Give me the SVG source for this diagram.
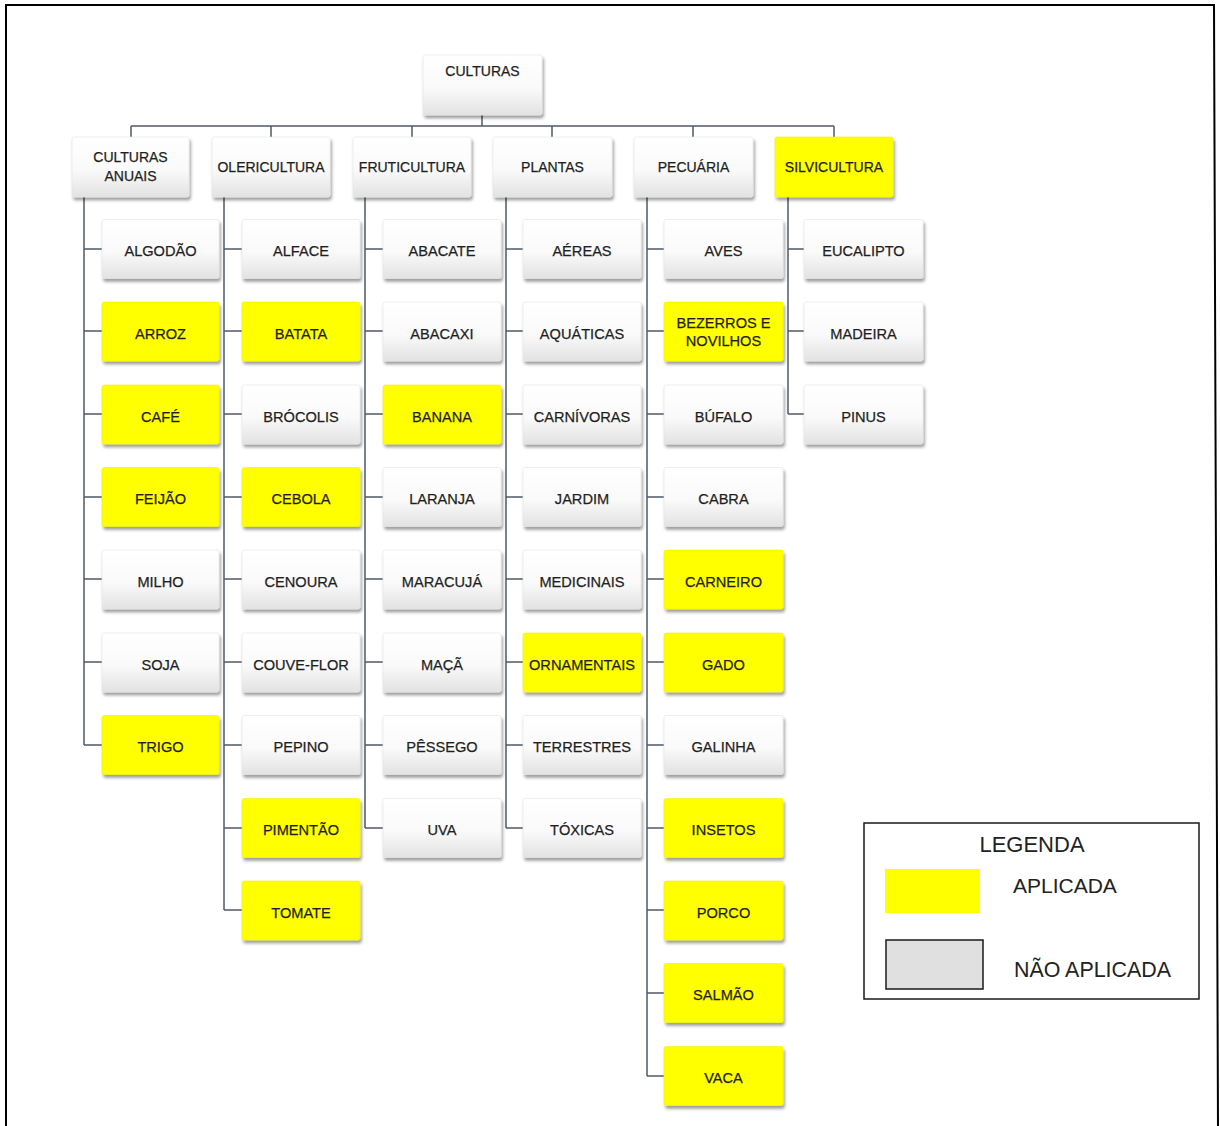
<svg xmlns="http://www.w3.org/2000/svg" width="1220" height="1126" viewBox="0 0 1220 1126">
  <defs>
    <linearGradient id="boxFill" x1="0" y1="0" x2="0" y2="1">
      <stop offset="0" stop-color="#ffffff"/>
      <stop offset="0.55" stop-color="#fafafa"/>
      <stop offset="1" stop-color="#e2e2e2"/>
    </linearGradient>
    <filter id="shadow" x="-10%" y="-10%" width="125%" height="135%">
      <feDropShadow dx="1.5" dy="3" stdDeviation="1.8" flood-color="#000" flood-opacity="0.38"/>
    </filter>
  </defs>
  <style>
    .box { fill: url(#boxFill); stroke: #e4e4e4; stroke-width: 0.6; filter: url(#shadow); }
    .yes { fill: #ffff00; stroke: #f2f200; stroke-width: 0.6; filter: url(#shadow); }
    .lbl { font-family: "Liberation Sans", Arial, sans-serif; font-size: 14.6px; fill: #1f1f1f; stroke: #1f1f1f; stroke-width: 0.25; text-anchor: middle; }
    .top { font-size: 14px; }
    .conn { stroke: #4f5b66; stroke-width: 1.5; fill: none; }
    .frame { stroke: #000; stroke-width: 2; fill: none; }
    .leg { font-family: "Liberation Sans", Arial, sans-serif; fill: #222; }
  </style>

  <rect width="1220" height="1126" fill="#ffffff"/>
  <polyline class="frame" points="6,1130 6,5 1214,5 1218,1130"/>

  <!-- connectors -->
  <g id="connectors" class="conn">
    <path d="M482,115 V126 M131,126 H834 M131,126 V137 M271,126 V137 M412,126 V137 M552,126 V137 M693,126 V137 M834,126 V137"/>
    <!-- CULTURAS ANUAIS: 7 children -->
    <path d="M84,197 V745 M84,249 H102 M84,331 H102 M84,414 H102 M84,497 H102 M84,579 H102 M84,662 H102 M84,745 H102"/>
    <!-- OLERICULTURA: 9 children -->
    <path d="M224,197 V910 M224,249 H242 M224,331 H242 M224,414 H242 M224,497 H242 M224,579 H242 M224,662 H242 M224,745 H242 M224,828 H242 M224,910 H242"/>
    <!-- FRUTICULTURA: 8 children -->
    <path d="M365,197 V828 M365,249 H383 M365,331 H383 M365,414 H383 M365,497 H383 M365,579 H383 M365,662 H383 M365,745 H383 M365,828 H383"/>
    <!-- PLANTAS: 8 children -->
    <path d="M506,197 V828 M506,249 H523 M506,331 H523 M506,414 H523 M506,497 H523 M506,579 H523 M506,662 H523 M506,745 H523 M506,828 H523"/>
    <!-- PECUARIA: 11 children -->
    <path d="M647,197 V1076 M647,249 H664 M647,331 H664 M647,414 H664 M647,497 H664 M647,579 H664 M647,662 H664 M647,745 H664 M647,828 H664 M647,910 H664 M647,993 H664 M647,1076 H664"/>
    <!-- SILVICULTURA: 3 children -->
    <path d="M788,197 V414 M788,249 H804 M788,331 H804 M788,414 H804"/>
  </g>

  <!-- root -->
  <g id="n-culturas">
    <rect class="box" x="423" y="55" width="119" height="60" rx="2"/>
    <text class="lbl top" x="482.5" y="76">CULTURAS</text>
  </g>

  <!-- first level -->
  <g id="n-culturas-anuais">
    <rect class="box" x="72" y="137" width="117" height="60" rx="2"/>
    <text class="lbl top" x="130.5" y="162">CULTURAS</text>
    <text class="lbl top" x="130.5" y="181">ANUAIS</text>
  </g>
  <g id="n-olericultura">
    <rect class="box" x="212" y="137" width="118" height="60" rx="2"/>
    <text class="lbl top" x="271" y="172">OLERICULTURA</text>
  </g>
  <g id="n-fruticultura">
    <rect class="box" x="353" y="137" width="118" height="60" rx="2"/>
    <text class="lbl top" x="412" y="172">FRUTICULTURA</text>
  </g>
  <g id="n-plantas">
    <rect class="box" x="493" y="137" width="119" height="60" rx="2"/>
    <text class="lbl top" x="552.5" y="172">PLANTAS</text>
  </g>
  <g id="n-pecuaria">
    <rect class="box" x="634" y="137" width="119" height="60" rx="2"/>
    <text class="lbl top" x="693.5" y="172">PECUÁRIA</text>
  </g>
  <g id="n-silvicultura">
    <rect class="yes" x="775" y="137" width="118" height="60" rx="2"/>
    <text class="lbl top" x="834" y="172">SILVICULTURA</text>
  </g>

  <!-- CULTURAS ANUAIS children -->
  <g id="n-algodao"><rect class="box" x="102" y="219.5" width="117" height="59" rx="2"/><text class="lbl" x="160.5" y="256">ALGODÃO</text></g>
  <g id="n-arroz"><rect class="yes" x="102" y="302" width="117" height="59" rx="2"/><text class="lbl" x="160.5" y="338.5">ARROZ</text></g>
  <g id="n-cafe"><rect class="yes" x="102" y="385" width="117" height="59" rx="2"/><text class="lbl" x="160.5" y="421.5">CAFÉ</text></g>
  <g id="n-feijao"><rect class="yes" x="102" y="467.5" width="117" height="59" rx="2"/><text class="lbl" x="160.5" y="504">FEIJÃO</text></g>
  <g id="n-milho"><rect class="box" x="102" y="550" width="117" height="59" rx="2"/><text class="lbl" x="160.5" y="586.5">MILHO</text></g>
  <g id="n-soja"><rect class="box" x="102" y="633" width="117" height="59" rx="2"/><text class="lbl" x="160.5" y="669.5">SOJA</text></g>
  <g id="n-trigo"><rect class="yes" x="102" y="715.5" width="117" height="59" rx="2"/><text class="lbl" x="160.5" y="752">TRIGO</text></g>

  <!-- OLERICULTURA children -->
  <g id="n-alface"><rect class="box" x="242" y="219.5" width="118" height="59" rx="2"/><text class="lbl" x="301" y="256">ALFACE</text></g>
  <g id="n-batata"><rect class="yes" x="242" y="302" width="118" height="59" rx="2"/><text class="lbl" x="301" y="338.5">BATATA</text></g>
  <g id="n-brocolis"><rect class="box" x="242" y="385" width="118" height="59" rx="2"/><text class="lbl" x="301" y="421.5">BRÓCOLIS</text></g>
  <g id="n-cebola"><rect class="yes" x="242" y="467.5" width="118" height="59" rx="2"/><text class="lbl" x="301" y="504">CEBOLA</text></g>
  <g id="n-cenoura"><rect class="box" x="242" y="550" width="118" height="59" rx="2"/><text class="lbl" x="301" y="586.5">CENOURA</text></g>
  <g id="n-couve-flor"><rect class="box" x="242" y="633" width="118" height="59" rx="2"/><text class="lbl" x="301" y="669.5">COUVE-FLOR</text></g>
  <g id="n-pepino"><rect class="box" x="242" y="715.5" width="118" height="59" rx="2"/><text class="lbl" x="301" y="752">PEPINO</text></g>
  <g id="n-pimentao"><rect class="yes" x="242" y="798.5" width="118" height="59" rx="2"/><text class="lbl" x="301" y="835">PIMENTÃO</text></g>
  <g id="n-tomate"><rect class="yes" x="242" y="881" width="118" height="59" rx="2"/><text class="lbl" x="301" y="917.5">TOMATE</text></g>

  <!-- FRUTICULTURA children -->
  <g id="n-abacate"><rect class="box" x="383" y="219.5" width="118" height="59" rx="2"/><text class="lbl" x="442" y="256">ABACATE</text></g>
  <g id="n-abacaxi"><rect class="box" x="383" y="302" width="118" height="59" rx="2"/><text class="lbl" x="442" y="338.5">ABACAXI</text></g>
  <g id="n-banana"><rect class="yes" x="383" y="385" width="118" height="59" rx="2"/><text class="lbl" x="442" y="421.5">BANANA</text></g>
  <g id="n-laranja"><rect class="box" x="383" y="467.5" width="118" height="59" rx="2"/><text class="lbl" x="442" y="504">LARANJA</text></g>
  <g id="n-maracuja"><rect class="box" x="383" y="550" width="118" height="59" rx="2"/><text class="lbl" x="442" y="586.5">MARACUJÁ</text></g>
  <g id="n-maca"><rect class="box" x="383" y="633" width="118" height="59" rx="2"/><text class="lbl" x="442" y="669.5">MAÇÃ</text></g>
  <g id="n-pessego"><rect class="box" x="383" y="715.5" width="118" height="59" rx="2"/><text class="lbl" x="442" y="752">PÊSSEGO</text></g>
  <g id="n-uva"><rect class="box" x="383" y="798.5" width="118" height="59" rx="2"/><text class="lbl" x="442" y="835">UVA</text></g>

  <!-- PLANTAS children -->
  <g id="n-aereas"><rect class="box" x="523" y="219.5" width="118" height="59" rx="2"/><text class="lbl" x="582" y="256">AÉREAS</text></g>
  <g id="n-aquaticas"><rect class="box" x="523" y="302" width="118" height="59" rx="2"/><text class="lbl" x="582" y="338.5">AQUÁTICAS</text></g>
  <g id="n-carnivoras"><rect class="box" x="523" y="385" width="118" height="59" rx="2"/><text class="lbl" x="582" y="421.5">CARNÍVORAS</text></g>
  <g id="n-jardim"><rect class="box" x="523" y="467.5" width="118" height="59" rx="2"/><text class="lbl" x="582" y="504">JARDIM</text></g>
  <g id="n-medicinais"><rect class="box" x="523" y="550" width="118" height="59" rx="2"/><text class="lbl" x="582" y="586.5">MEDICINAIS</text></g>
  <g id="n-ornamentais"><rect class="yes" x="523" y="633" width="118" height="59" rx="2"/><text class="lbl" x="582" y="669.5">ORNAMENTAIS</text></g>
  <g id="n-terrestres"><rect class="box" x="523" y="715.5" width="118" height="59" rx="2"/><text class="lbl" x="582" y="752">TERRESTRES</text></g>
  <g id="n-toxicas"><rect class="box" x="523" y="798.5" width="118" height="59" rx="2"/><text class="lbl" x="582" y="835">TÓXICAS</text></g>

  <!-- PECUARIA children -->
  <g id="n-aves"><rect class="box" x="664" y="219.5" width="119" height="59" rx="2"/><text class="lbl" x="723.5" y="256">AVES</text></g>
  <g id="n-bezerros"><rect class="yes" x="664" y="302" width="119" height="59" rx="2"/><text class="lbl" x="723.5" y="328">BEZERROS E</text><text class="lbl" x="723.5" y="346">NOVILHOS</text></g>
  <g id="n-bufalo"><rect class="box" x="664" y="385" width="119" height="59" rx="2"/><text class="lbl" x="723.5" y="421.5">BÚFALO</text></g>
  <g id="n-cabra"><rect class="box" x="664" y="467.5" width="119" height="59" rx="2"/><text class="lbl" x="723.5" y="504">CABRA</text></g>
  <g id="n-carneiro"><rect class="yes" x="664" y="550" width="119" height="59" rx="2"/><text class="lbl" x="723.5" y="586.5">CARNEIRO</text></g>
  <g id="n-gado"><rect class="yes" x="664" y="633" width="119" height="59" rx="2"/><text class="lbl" x="723.5" y="669.5">GADO</text></g>
  <g id="n-galinha"><rect class="box" x="664" y="715.5" width="119" height="59" rx="2"/><text class="lbl" x="723.5" y="752">GALINHA</text></g>
  <g id="n-insetos"><rect class="yes" x="664" y="798.5" width="119" height="59" rx="2"/><text class="lbl" x="723.5" y="835">INSETOS</text></g>
  <g id="n-porco"><rect class="yes" x="664" y="881" width="119" height="59" rx="2"/><text class="lbl" x="723.5" y="917.5">PORCO</text></g>
  <g id="n-salmao"><rect class="yes" x="664" y="963.5" width="119" height="59" rx="2"/><text class="lbl" x="723.5" y="1000">SALMÃO</text></g>
  <g id="n-vaca"><rect class="yes" x="664" y="1046.5" width="119" height="59" rx="2"/><text class="lbl" x="723.5" y="1083">VACA</text></g>

  <!-- SILVICULTURA children -->
  <g id="n-eucalipto"><rect class="box" x="804" y="219.5" width="119" height="59" rx="2"/><text class="lbl" x="863.5" y="256">EUCALIPTO</text></g>
  <g id="n-madeira"><rect class="box" x="804" y="302" width="119" height="59" rx="2"/><text class="lbl" x="863.5" y="338.5">MADEIRA</text></g>
  <g id="n-pinus"><rect class="box" x="804" y="385" width="119" height="59" rx="2"/><text class="lbl" x="863.5" y="421.5">PINUS</text></g>

  <!-- legend -->
  <g id="legend">
    <rect x="864" y="823" width="335" height="176" fill="#ffffff" stroke="#1a1a1a" stroke-width="1.5"/>
    <text class="leg" x="1032" y="852" font-size="22" text-anchor="middle">LEGENDA</text>
    <rect x="885" y="869" width="95" height="44" fill="#ffff00"/>
    <text class="leg" x="1013" y="893" font-size="21">APLICADA</text>
    <rect x="886" y="940" width="97" height="49" fill="#e0e0e0" stroke="#1a1a1a" stroke-width="1.5"/>
    <text class="leg" x="1014" y="977" font-size="21.4">NÃO APLICADA</text>
  </g>
</svg>
